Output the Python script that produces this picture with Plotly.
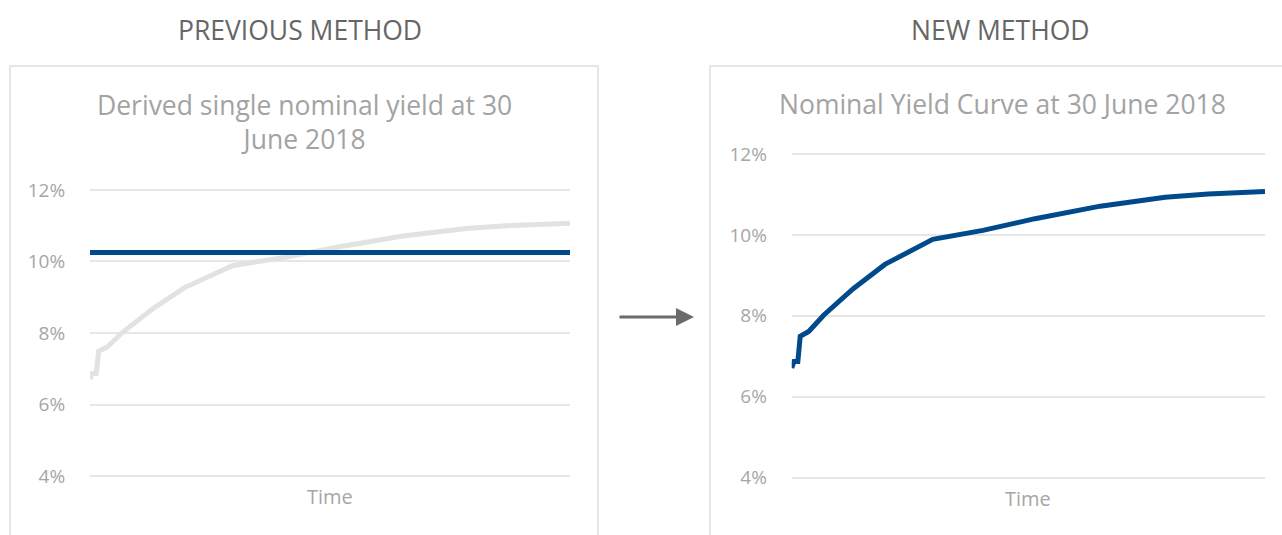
import plotly.graph_objects as go

# ---- data ----
time_pts = [0, 0.5, 1.3, 1.8, 3.6, 6.8, 13.0, 19.7, 29.8, 40.4, 51.4, 65.2, 78.9, 88.0, 100.0]
yield_curve = [6.71, 6.87, 6.87, 7.49, 7.61, 8.02, 8.67, 9.27, 9.89, 10.11, 10.40, 10.71, 10.93, 11.01, 11.07]
single_yield = 10.25
y_ticks = [4, 6, 8, 10, 12]
y_tick_labels = ["4%", "6%", "8%", "10%", "12%"]

W, H = 1282, 535
def px(x): return x / W
def py(y): return 1 - y / H

BLUE = "#004a8c"
LIGHT = "#e2e2e2"
GRID = "#e6e6e6"
TICK = "#a6a6a6"
FONT = "Open Sans"

fig = go.Figure()

fig.add_trace(go.Scatter(x=time_pts, y=yield_curve, mode="lines",
                         line=dict(color=LIGHT, width=5), xaxis="x", yaxis="y",
                         hoverinfo="skip"))
fig.add_trace(go.Scatter(x=[time_pts[0], time_pts[-1]], y=[single_yield, single_yield],
                         mode="lines", line=dict(color=BLUE, width=5),
                         xaxis="x", yaxis="y", hoverinfo="skip"))
fig.add_trace(go.Scatter(x=time_pts, y=yield_curve, mode="lines",
                         line=dict(color=BLUE, width=5), xaxis="x2", yaxis="y2",
                         hoverinfo="skip"))

xcommon = dict(range=[0, 100], showgrid=False, zeroline=False, showticklabels=False,
               showline=False, fixedrange=True)
ycommon = dict(range=[3.5, 12.5], tickvals=y_ticks, ticktext=y_tick_labels,
               showgrid=True, gridcolor=GRID, gridwidth=2, zeroline=False, showline=False,
               ticks="outside", ticklen=20, tickcolor="rgba(0,0,0,0)",
               tickfont=dict(family=FONT, size=19, color=TICK), fixedrange=True)

fig.update_layout(
    width=W, height=H,
    margin=dict(l=0, r=0, t=0, b=0),
    paper_bgcolor="white", plot_bgcolor="white",
    showlegend=False,
    xaxis=dict(domain=[px(90), px(570)], anchor="y", **xcommon),
    yaxis=dict(domain=[py(493.9), py(172.1)], anchor="x", **ycommon),
    xaxis2=dict(domain=[px(791.7), px(1265)], anchor="y2", **xcommon),
    yaxis2=dict(domain=[py(497.75), py(133.75)], anchor="x2", **ycommon),
)

# panel borders
fig.add_shape(type="rect", xref="paper", yref="paper",
              x0=px(10), x1=px(598), y0=py(545), y1=py(66),
              line=dict(color="#dedede", width=1.5), layer="below")
fig.add_shape(type="rect", xref="paper", yref="paper",
              x0=px(710), x1=px(1295), y0=py(545), y1=py(66),
              line=dict(color="#dedede", width=1.5), layer="below")

def ann(text, x, y, size, color):
    fig.add_annotation(text=text, xref="paper", yref="paper", x=px(x), y=py(y),
                       xanchor="center", yanchor="middle", showarrow=False,
                       font=dict(family=FONT, size=size, color=color))

ann("PREVIOUS METHOD", 300, 30, 26.5, "#666666")
ann("NEW METHOD", 1000, 30, 26.5, "#666666")
ann("Derived single nominal yield at 30<br>June 2018", 304, 122, 26.5, "#a3a3a3")
ann("Nominal Yield Curve at 30 June 2018", 1002, 104, 26.5, "#a3a3a3")
ann("Time", 330, 496, 20, TICK)
ann("Time", 1028, 498, 20, TICK)

# arrow
fig.add_annotation(xref="paper", yref="paper", x=px(694), y=py(317),
                   ax=-76, ay=0, axref="pixel", ayref="pixel",
                   text="", showarrow=True, arrowhead=2, arrowsize=1.2,
                   arrowwidth=3, arrowcolor="#6b6b6b")

fig.write_html("out.html")
